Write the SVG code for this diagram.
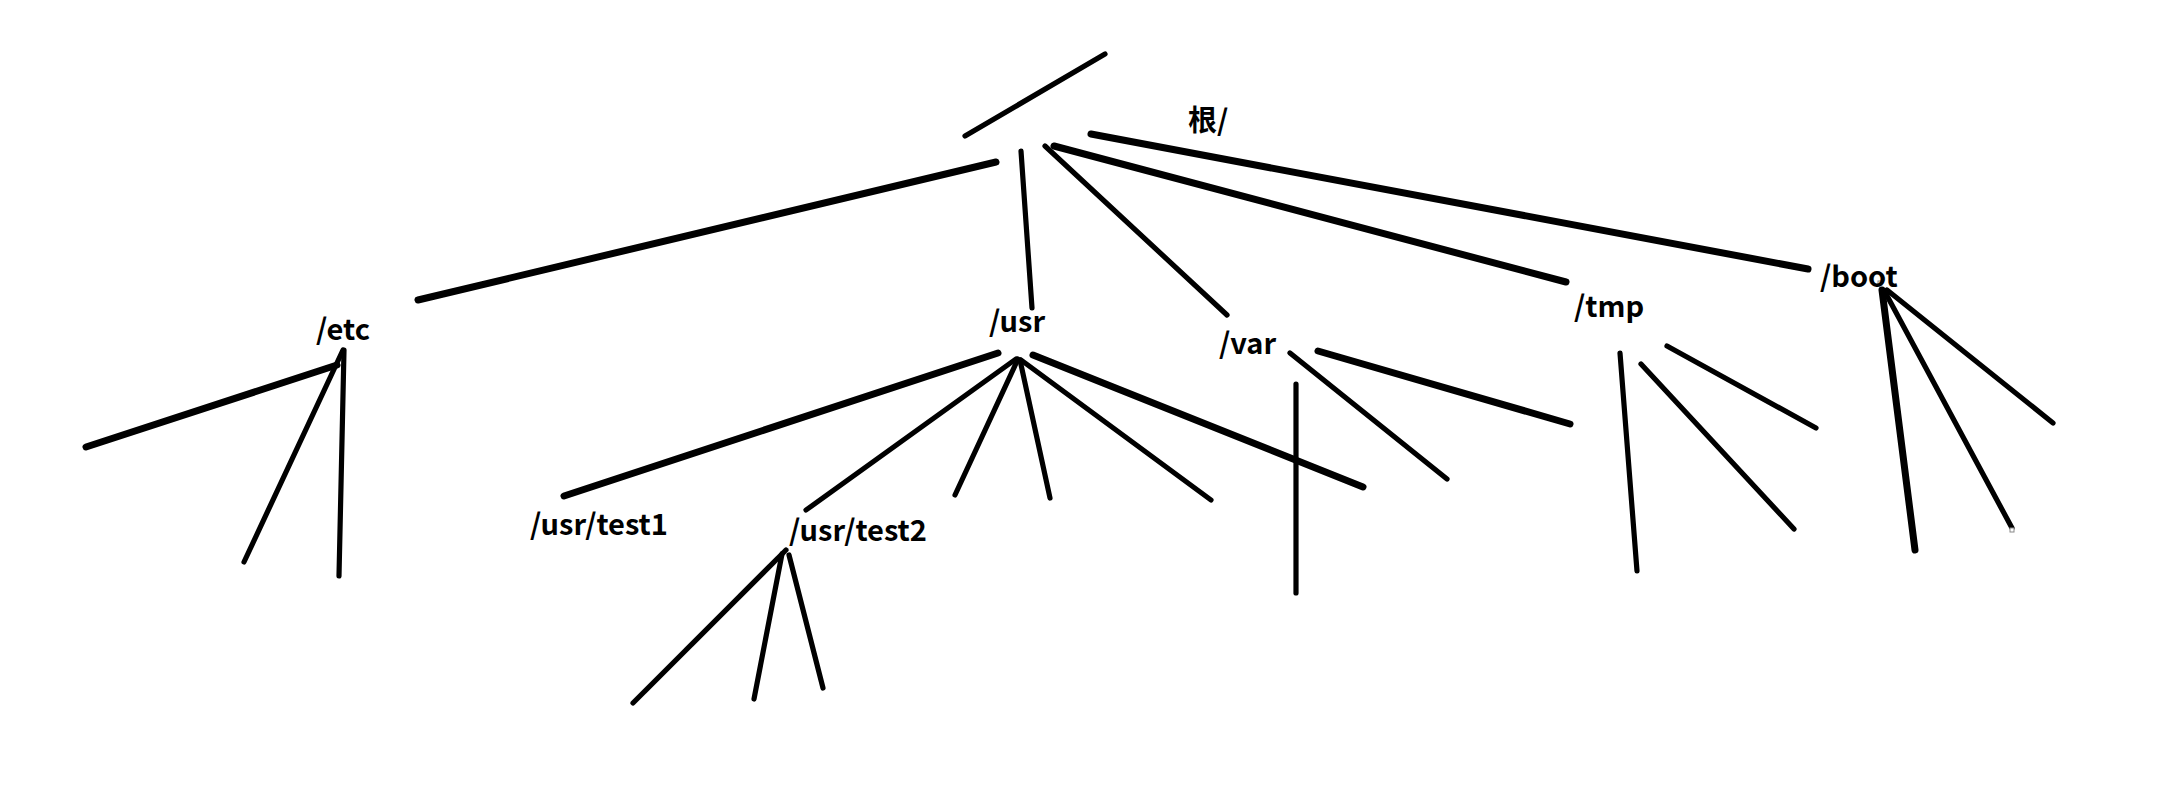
<svg xmlns="http://www.w3.org/2000/svg" width="2161" height="799" viewBox="0 0 2161 799">
<style>
.bg{fill:#ffffff}
.ln{stroke:#000000;stroke-width:5.2;stroke-linecap:round;fill:none}
.tk{stroke-width:7}
.lbl{font-family:"Noto Sans CJK SC","Liberation Sans",sans-serif;font-weight:700;font-size:29px;fill:#000000}
.dot{fill:#ffffff;stroke:#888888;stroke-width:1}
</style>
<rect class="bg" x="0" y="0" width="2161" height="799"/>
<g id="connectors">
<line class="ln" x1="965" y1="136" x2="1105" y2="54"/>
<line class="ln tk" x1="996" y1="162" x2="418" y2="300"/>
<line class="ln" x1="1021" y1="151" x2="1032" y2="308"/>
<line class="ln" x1="1045" y1="146" x2="1227" y2="315"/>
<line class="ln tk" x1="1054" y1="146" x2="1566" y2="282"/>
<line class="ln tk" x1="1091" y1="134" x2="1808" y2="269"/>
<line class="ln tk" x1="337" y1="365" x2="86" y2="447"/>
<line class="ln" x1="343" y1="350" x2="244" y2="562"/>
<line class="ln" x1="344" y1="350" x2="339" y2="576"/>
<line class="ln tk" x1="998" y1="353" x2="564" y2="496"/>
<line class="ln" x1="1016" y1="359" x2="806" y2="510"/>
<line class="ln" x1="1018" y1="359" x2="955" y2="495"/>
<line class="ln" x1="1020" y1="360" x2="1050" y2="498"/>
<line class="ln" x1="1021" y1="360" x2="1211" y2="500"/>
<line class="ln tk" x1="1033" y1="355" x2="1363" y2="487"/>
<line class="ln" x1="786" y1="550" x2="633" y2="703"/>
<line class="ln" x1="782" y1="554" x2="754" y2="699"/>
<line class="ln" x1="789" y1="555" x2="823" y2="688"/>
<line class="ln" x1="1296" y1="384" x2="1296" y2="593"/>
<line class="ln" x1="1290" y1="353" x2="1447" y2="479"/>
<line class="ln tk" x1="1318" y1="351" x2="1570" y2="424"/>
<line class="ln" x1="1620" y1="353" x2="1637" y2="571"/>
<line class="ln" x1="1641" y1="364" x2="1794" y2="529"/>
<line class="ln" x1="1667" y1="346" x2="1816" y2="428"/>
<line class="ln tk" x1="1882" y1="290" x2="1915" y2="550"/>
<line class="ln" x1="1885" y1="292" x2="2012" y2="528"/>
<line class="ln" x1="1887" y1="290" x2="2053" y2="423"/>
<rect class="dot" x="1878" y="281" width="4" height="4"/>
<rect class="dot" x="2010" y="528" width="4" height="4"/>
</g>
<g id="node-root"><text class="lbl" x="1188" y="131">根/</text></g>
<g id="node-etc"><text class="lbl" x="316" y="340">/etc</text></g>
<g id="node-usr"><text class="lbl" x="989" y="332">/usr</text></g>
<g id="node-var"><text class="lbl" x="1219" y="354">/var</text></g>
<g id="node-tmp"><text class="lbl" x="1574" y="317">/tmp</text></g>
<g id="node-boot"><text class="lbl" x="1820" y="287">/boot</text></g>
<g id="node-usr-test1"><text class="lbl" x="530" y="535">/usr/test1</text></g>
<g id="node-usr-test2"><text class="lbl" x="789" y="541">/usr/test2</text></g>
</svg>
